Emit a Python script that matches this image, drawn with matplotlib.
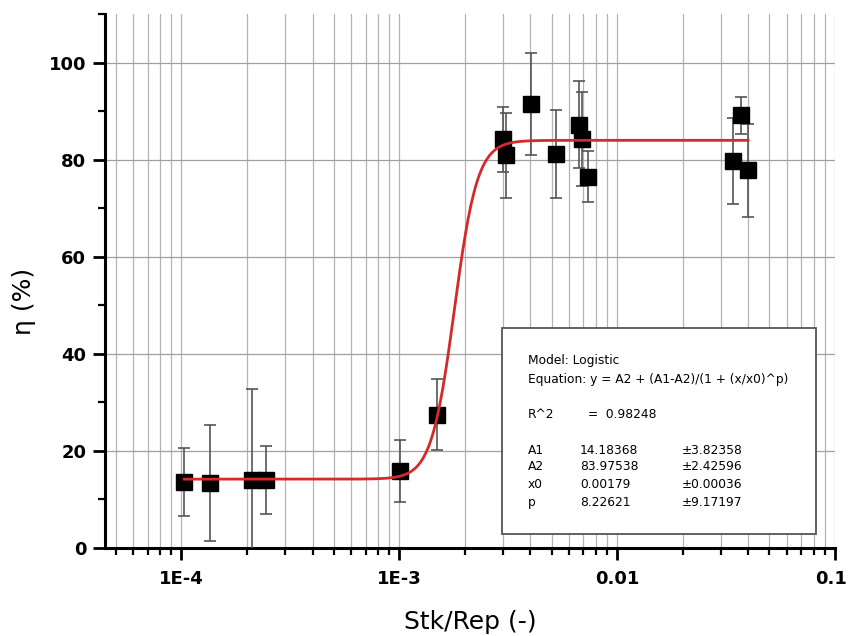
import numpy as np
import matplotlib
matplotlib.use("Agg")
import matplotlib.pyplot as plt
import matplotlib.ticker as tk
import matplotlib.transforms as mtrans

plt.rcParams['font.family'] = ['DejaVu Sans']

# measured points: Stk/Rep, efficiency and error
stk_rep = [1.03e-4, 1.36e-4, 2.10e-4, 2.44e-4, 1.01e-3, 1.49e-3,
           2.99e-3, 3.10e-3, 4.03e-3, 5.25e-3, 6.70e-3, 6.88e-3, 7.33e-3,
           0.0342, 0.0372, 0.0399]
eta = [13.6, 13.4, 14.0, 14.0, 15.8, 27.5,
       84.2, 80.9, 91.5, 81.2, 87.2, 84.3, 76.5,
       79.7, 89.1, 77.8]
eta_err = [7.0, 11.9, 18.7, 7.0, 6.4, 7.4,
           6.7, 8.7, 10.5, 9.0, 9.0, 9.7, 5.3,
           8.9, 3.9, 9.6]

# logistic fit parameters
A1, A2, x0, p = 14.18368, 83.97538, 0.00179, 8.22621

fit_text = ["Model: Logistic",
            "Equation: y = A2 + (A1-A2)/(1 + (x/x0)^p)"]
par_names = ["A1", "A2", "x0", "p"]
par_vals = ["14.18368", "83.97538", "0.00179", "8.22621"]
par_errs = ["\u00b13.82358", "\u00b12.42596", "\u00b10.00036", "\u00b19.17197"]

W, H = 849, 636
fig = plt.figure(figsize=(W / 100, H / 100), dpi=100)
ax = fig.add_axes([105 / W, 1 - 548 / H, (835 - 105) / W, (548 - 14) / H])

ax.set_xscale('log')
ax.set_xlim(4.46e-5, 0.1)
ax.set_ylim(0, 110)

xs = np.logspace(np.log10(stk_rep[0]), np.log10(stk_rep[-1]), 400)
ys = A2 + (A1 - A2) / (1 + (xs / x0) ** p)

ax.errorbar(stk_rep, eta, yerr=eta_err, fmt='none', ecolor='#555555',
            elinewidth=1.2, capsize=4.5, capthick=1.2, zorder=3)
ax.plot(stk_rep, eta, 's', color='black', markersize=11, zorder=4)
ax.plot(xs, ys, color='#d42a2a', lw=2, zorder=5)

ax.xaxis.set_minor_locator(tk.LogLocator(base=10, subs=np.arange(2, 10)))
ax.xaxis.set_minor_formatter(tk.NullFormatter())
ax.set_xticks([1e-4, 1e-3, 1e-2, 1e-1])
ax.set_xticklabels(['1E-4', '1E-3', '0.01', '0.1'])
ax.set_yticks([0, 20, 40, 60, 80, 100])
ax.yaxis.set_minor_locator(tk.MultipleLocator(10))

ax.grid(True, which='both', axis='x', color='#b4b4b4', lw=0.9)
ax.grid(True, which='major', axis='y', color='#a0a0a0', lw=0.9)
ax.set_axisbelow(True)

for s in ['top', 'right']:
    ax.spines[s].set_visible(False)
for s in ['left', 'bottom']:
    ax.spines[s].set_linewidth(2.2)

ax.tick_params(which='major', direction='out', length=8.5, width=2,
               labelsize=13)
ax.tick_params(axis='x', which='major', pad=7)
ax.tick_params(axis='y', which='major', pad=5)
ax.tick_params(which='minor', direction='out', length=5, width=1.6)
for lab in ax.get_xticklabels() + ax.get_yticklabels():
    lab.set_fontweight('bold')
# keep the last label inside the figure
last = ax.get_xticklabels()[-1]
last.set_transform(last.get_transform() +
                   mtrans.ScaledTranslation(-4 / 100, 0, fig.dpi_scale_trans))

fig.text(470.7 / W, 1 - 629.3 / H, 'Stk/Rep (-)', fontsize=18,
         ha='center', va='baseline')
fig.text(24 / W, 1 - 301 / H, '\u03b7 (%)', fontsize=18, rotation=90,
         ha='center', va='center')

# fit results box
box = plt.Rectangle((501.7 / W, 1 - 534.3 / H), (816 - 501.7) / W,
                    (534.3 - 327.7) / H, transform=fig.transFigure,
                    facecolor='white', edgecolor='#555555', lw=1.3, zorder=10)
fig.patches.append(box)

fs = 8.8
fig.text(528 / W, 1 - 360.7 / H, fit_text[0], fontsize=fs, va='center', zorder=11)
fig.text(528 / W, 1 - 380 / H, fit_text[1], fontsize=fs, va='center', zorder=11)
fig.text(528 / W, 1 - 414 / H, "R^2", fontsize=fs, va='center', zorder=11)
fig.text(588 / W, 1 - 414 / H, "=  0.98248", fontsize=fs, va='center', zorder=11)
rows_y = [450, 466.7, 485, 502.3]
for n, v, e, yy in zip(par_names, par_vals, par_errs, rows_y):
    fig.text(528 / W, 1 - yy / H, n, fontsize=fs, va='center', zorder=11)
    fig.text(580 / W, 1 - yy / H, v, fontsize=fs, va='center', zorder=11)
    fig.text(682 / W, 1 - yy / H, e, fontsize=fs, va='center', zorder=11)

fig.savefig('out.png', dpi=100)
